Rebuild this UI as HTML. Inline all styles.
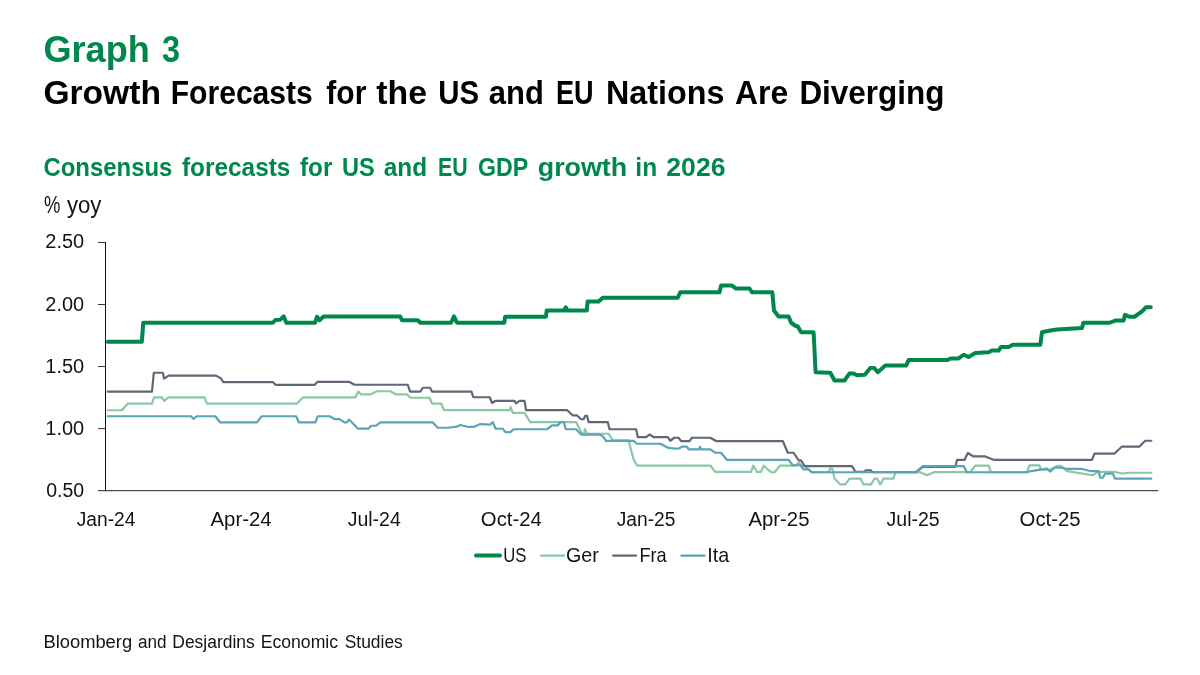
<!DOCTYPE html>
<html lang="en"><head><meta charset="utf-8"><title>Graph 3</title>
<style>
html,body{margin:0;padding:0;background:#fff;}
body{width:1200px;height:675px;overflow:hidden;font-family:"Liberation Sans",sans-serif;}
svg{display:block}
text{font-family:"Liberation Sans",sans-serif;}
.b{font-weight:700}
</style></head><body>
<svg width="1200" height="675" viewBox="0 0 1200 675">
<rect width="1200" height="675" fill="#fff"/>
<text y="62.0" font-size="37.2" fill="#00874e" class="b"><tspan x="43.43" textLength="106.34" lengthAdjust="spacingAndGlyphs">Graph</tspan> <tspan x="161.9" textLength="18.1" lengthAdjust="spacingAndGlyphs">3</tspan></text>
<text y="104.4" font-size="33.5" fill="#000" class="b"><tspan x="43.4" textLength="117.57" lengthAdjust="spacingAndGlyphs">Growth</tspan> <tspan x="170.7" textLength="142.16" lengthAdjust="spacingAndGlyphs">Forecasts</tspan> <tspan x="326.3" textLength="40.03" lengthAdjust="spacingAndGlyphs">for</tspan> <tspan x="376.3" textLength="50.64" lengthAdjust="spacingAndGlyphs">the</tspan> <tspan x="438.24" textLength="40.86" lengthAdjust="spacingAndGlyphs">US</tspan> <tspan x="488.8" textLength="55.05" lengthAdjust="spacingAndGlyphs">and</tspan> <tspan x="555.89" textLength="37.58" lengthAdjust="spacingAndGlyphs">EU</tspan> <tspan x="606.07" textLength="118.33" lengthAdjust="spacingAndGlyphs">Nations</tspan> <tspan x="735.0" textLength="53.1" lengthAdjust="spacingAndGlyphs">Are</tspan> <tspan x="799.42" textLength="144.95" lengthAdjust="spacingAndGlyphs">Diverging</tspan></text>
<text y="175.8" font-size="26" fill="#00874e" class="b"><tspan x="43.38" textLength="129.04" lengthAdjust="spacingAndGlyphs">Consensus</tspan> <tspan x="182.0" textLength="108.43" lengthAdjust="spacingAndGlyphs">forecasts</tspan> <tspan x="300.0" textLength="32.41" lengthAdjust="spacingAndGlyphs">for</tspan> <tspan x="342.09" textLength="32.72" lengthAdjust="spacingAndGlyphs">US</tspan> <tspan x="383.8" textLength="43.33" lengthAdjust="spacingAndGlyphs">and</tspan> <tspan x="437.98" textLength="29.66" lengthAdjust="spacingAndGlyphs">EU</tspan> <tspan x="477.91" textLength="49.89" lengthAdjust="spacingAndGlyphs">GDP</tspan> <tspan x="537.77" textLength="89.44" lengthAdjust="spacingAndGlyphs">growth</tspan> <tspan x="635.36" textLength="21.77" lengthAdjust="spacingAndGlyphs">in</tspan> <tspan x="666.3" textLength="59.17" lengthAdjust="spacingAndGlyphs">2026</tspan></text>
<text y="213" font-size="23" fill="#141414"><tspan x="44.0" textLength="16.36" lengthAdjust="spacingAndGlyphs">%</tspan> <tspan x="66.9" textLength="34.52" lengthAdjust="spacingAndGlyphs">yoy</tspan></text>
<g stroke="#111111" stroke-width="1" fill="none">
<path d="M105.5 242V491.2" shape-rendering="crispEdges"/>
<path stroke="#222" d="M98 490.7H1158.3"/>
<path stroke="#333" d="M98 242.4H105.5"/>
<path stroke="#333" d="M98 304.5H105.5"/>
<path stroke="#333" d="M98 366.55H105.5"/>
<path stroke="#333" d="M98 428.65H105.5"/>
</g>
<text y="248.4" font-size="20" fill="#141414"><tspan x="45.3" textLength="38.82" lengthAdjust="spacingAndGlyphs">2.50</tspan></text>
<text y="310.5" font-size="20" fill="#141414"><tspan x="45.3" textLength="38.82" lengthAdjust="spacingAndGlyphs">2.00</tspan></text>
<text y="372.6" font-size="20" fill="#141414"><tspan x="45.3" textLength="38.82" lengthAdjust="spacingAndGlyphs">1.50</tspan></text>
<text y="434.6" font-size="20" fill="#141414"><tspan x="45.3" textLength="38.82" lengthAdjust="spacingAndGlyphs">1.00</tspan></text>
<text y="496.7" font-size="20" fill="#141414"><tspan x="46.3" textLength="37.82" lengthAdjust="spacingAndGlyphs">0.50</tspan></text>
<text y="526.1" font-size="20" fill="#141414"><tspan x="76.7" textLength="58.72" lengthAdjust="spacingAndGlyphs">Jan-24</tspan></text>
<text y="526.1" font-size="20" fill="#141414"><tspan x="210.5" textLength="61.13" lengthAdjust="spacingAndGlyphs">Apr-24</tspan></text>
<text y="526.1" font-size="20" fill="#141414"><tspan x="347.7" textLength="53.12" lengthAdjust="spacingAndGlyphs">Jul-24</tspan></text>
<text y="526.1" font-size="20" fill="#141414"><tspan x="480.85" textLength="60.92" lengthAdjust="spacingAndGlyphs">Oct-24</tspan></text>
<text y="526.1" font-size="20" fill="#141414"><tspan x="616.7" textLength="58.72" lengthAdjust="spacingAndGlyphs">Jan-25</tspan></text>
<text y="526.1" font-size="20" fill="#141414"><tspan x="748.4" textLength="61.13" lengthAdjust="spacingAndGlyphs">Apr-25</tspan></text>
<text y="526.1" font-size="20" fill="#141414"><tspan x="886.6" textLength="53.12" lengthAdjust="spacingAndGlyphs">Jul-25</tspan></text>
<text y="526.1" font-size="20" fill="#141414"><tspan x="1019.6" textLength="60.92" lengthAdjust="spacingAndGlyphs">Oct-25</tspan></text>
<g fill="none" stroke-linejoin="round" stroke-linecap="round" transform="translate(0.3,0.25)">
<polyline stroke="#00874e" stroke-width="4" points="107.5,341.5 141.5,341.5 143,322.5 272.5,322.5 275,319.8 280,319.5 283.3,316 286,322.5 314.7,322.5 316.7,316.5 319.2,320 323.3,316.3 400,316.3 401.7,320 417.5,320 420,322.5 450.8,322.5 453.7,316.2 456.7,322.5 504,322.5 504.8,316.4 545.6,316.4 546.4,310.3 564.2,310.3 565.5,307 567,310.3 586.5,310.3 587.3,301.2 598.3,301.2 602.5,297.5 677.5,297.5 680,292 719.2,292 720.8,285.3 731.7,285.3 735.8,288.3 749.2,288.3 751.7,292 772,292 773.7,310.3 778.3,316.2 788.3,316.2 790.8,322.5 795,325.5 797.5,326.2 800.8,332 813.3,332 815.3,372 830,372.5 834.2,380.3 844.2,380.3 849.2,373.2 853.3,373.2 856.7,375 864.5,374.5 870,367.8 874,367.8 877.5,372 885,365.3 905.8,365.3 908.3,359.8 946.7,359.8 950.8,358.2 958.3,358.2 963.3,354.5 968.3,356.7 975,352.8 988.3,352 991.7,350.3 998.3,350.3 1000.8,346.7 1008.3,346.7 1012.5,344.5 1040,344.5 1041.7,332 1050,330.3 1056.7,329.2 1081.7,327.8 1083,322.5 1109.2,322.5 1115,320.3 1123.3,320.3 1124.7,314.5 1129.2,316.5 1134.2,316.5 1141.7,311.2 1145.8,307 1150.5,307"/>
<polyline stroke="#89c8a3" stroke-width="2.2" points="107.5,410 121.7,410 127.5,403.3 151.7,403.3 153.7,397.2 161.7,397.2 163.8,400.5 168.3,397.2 204.2,397.2 206.7,403.3 296.7,403.3 302.5,397.2 355,397.2 358,391.3 360.8,394.2 370,394.2 376.7,391 390,391 395.8,394.2 406.7,394.2 410,397.5 429.2,397.5 431.7,403.3 440.8,403.3 443.7,409.8 509.2,409.8 510.3,406.8 512.5,412.7 524.2,412.7 530,421.8 575.8,421.8 581.7,433.5 583.3,433.5 584.7,429 586.7,433.5 608.3,433.5 612.5,440.2 628.3,440.2 633.3,459.3 636.7,465.3 710,465.3 715,471.7 750.8,471.7 753,465.3 756.7,471.7 760.8,471.7 763.3,465.3 767.5,469.2 770.8,472 774.2,472 780,465.3 795.8,465.3 798.7,461.7 800.8,465.3 804,465.3 811,472 828,472 830,468.3 832,468.3 834.2,478.3 840,484.2 845,484.2 849.2,478.3 860,478.3 863.3,484.2 870.8,484.2 874.2,478.3 876.7,478.3 880,484.2 883.3,478.3 893.3,478.3 895,472 920,472 926.7,475 934.2,471.8 966.7,471.8 970,472 975,465.3 988.3,465.3 990.8,472 1026.7,472 1029.2,465.2 1039.2,465.2 1040.8,469.5 1050,469.5 1056.7,465.6 1060.8,465.6 1066.7,470.8 1092.5,475 1097.5,471.7 1115,471.7 1121.7,473.3 1128.3,472.5 1151,472.5"/>
<polyline stroke="#5f6876" stroke-width="2.2" points="107.5,391.4 151.7,391.4 153.5,372.5 162.5,372.5 163.8,378.3 168.3,375.4 215.8,375.4 220.8,378.3 223,381.8 272.5,381.8 275.5,384.7 314.2,384.7 317,381.7 349.2,381.7 354.2,384.5 407.5,384.5 409.8,391.3 420,391.3 422.5,387.5 429.7,387.5 431.7,391.3 471.2,391.3 473,397 489.5,397 491.7,402.7 495,400.7 514.2,400.7 515.8,403 519.2,400.7 524.2,400.7 525.8,409.8 566.7,409.8 572.5,415.2 576.7,415.2 580.8,419 583.3,419 585,415.5 586.7,415.5 588.3,421.8 607.5,421.8 609.2,429 635.8,429 637.5,436.8 645.8,436.8 649.2,434.3 653.3,436.8 667.5,436.8 670,440.5 674,437.5 678.3,437.5 680.8,440.8 689.2,440.8 691.7,437.5 710,437.5 715.8,440.8 782.5,440.8 787.5,452.5 793.3,452.5 798.3,460 800.8,460 804.2,465.8 851.7,465.8 855,471.5 864,471.5 865.5,470 870.5,470 872,472 915.5,472 922.5,466.7 955,466.7 956.7,459.7 964.2,459.7 967.5,452.8 973.3,456.2 985,456.2 993.3,459.6 1091.7,459.6 1094.2,453.3 1114.2,453.3 1121.7,446.3 1139.2,446.3 1145,440.5 1151,440.5"/>
<polyline stroke="#58a4b8" stroke-width="2.2" points="107.5,416 190.8,416 193.3,418.8 196.3,416 215,416 220,422.2 256.7,422.2 261.3,416 295.8,416 298.7,422.2 315,422.2 317.5,416 329.2,416 334.2,418.8 339,418.8 344.2,422.2 346.7,422.2 348.7,419.3 351.7,422.2 357.5,428.3 368.3,428.3 370.8,425.5 375.8,425.5 380,422.2 432.5,422.2 437.5,427.5 447.5,427.5 456.7,426.3 460,424.7 468.3,426.7 473.3,426.7 480,423.8 490,424.3 492.5,421.8 495.3,428.5 502.5,428.5 505,431.8 510,431.8 513.3,429 546.7,429 551.7,425.2 557.5,425.2 560.2,421.8 563.6,421.8 565.4,429 575.8,429 580.8,434.3 600,434.3 603.3,436.8 605.8,440.7 633.3,440.7 636.7,443.5 660,443.5 668.3,447.7 676.7,448.5 679.2,448 681.7,446.3 686.7,446.3 688.3,449.2 698.7,449.2 699.7,446.7 700.7,449.2 710,449.2 715,452.5 720.8,452.5 726.7,459.7 788.3,459.7 792.5,465 800,465 803.3,469.2 808.3,469.2 811.7,472 915.8,472 922.5,465.8 963.3,465.8 966.7,472 1026.7,472 1030.8,470.8 1041.7,469.2 1046.7,468.3 1049.7,471.3 1054.2,467.5 1061.7,467.5 1066.7,468.7 1081.7,468.7 1090,470.8 1098.3,470.8 1100,477.5 1102.5,477.5 1105,473.3 1112.5,473.3 1114.7,478.3 1151,478.3"/>
<path stroke="#00874e" stroke-width="4" d="M475.7 555.3H499.7"/>
<path stroke="#89c8a3" stroke-width="2.2" d="M540.7 555.3H563.7"/>
<path stroke="#5f6876" stroke-width="2.2" d="M612.7 555.3H635.7"/>
<path stroke="#58a4b8" stroke-width="2.2" d="M681 555.3H704.3"/>
</g>
<text y="561.7" font-size="19.8" fill="#141414"><tspan x="503.16" textLength="23.21" lengthAdjust="spacingAndGlyphs">US</tspan></text>
<text y="561.7" font-size="19.8" fill="#141414"><tspan x="566.01" textLength="32.78" lengthAdjust="spacingAndGlyphs">Ger</tspan></text>
<text y="561.7" font-size="19.8" fill="#141414"><tspan x="639.48" textLength="27.22" lengthAdjust="spacingAndGlyphs">Fra</tspan></text>
<text y="561.7" font-size="19.8" fill="#141414"><tspan x="707.3" textLength="21.9" lengthAdjust="spacingAndGlyphs">Ita</tspan></text>
<text y="647.5" font-size="17.6" fill="#141414"><tspan x="43.46" textLength="88.66" lengthAdjust="spacingAndGlyphs">Bloomberg</tspan> <tspan x="138.0" textLength="28.56" lengthAdjust="spacingAndGlyphs">and</tspan> <tspan x="172.31" textLength="82.49" lengthAdjust="spacingAndGlyphs">Desjardins</tspan> <tspan x="260.7" textLength="77.4" lengthAdjust="spacingAndGlyphs">Economic</tspan> <tspan x="344.7" textLength="58.1" lengthAdjust="spacingAndGlyphs">Studies</tspan></text>
</svg>
</body></html>
